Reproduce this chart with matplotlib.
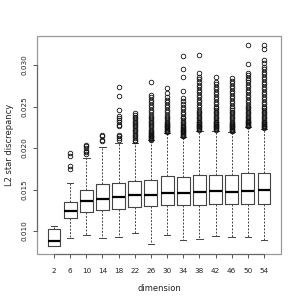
import matplotlib
matplotlib.use('Agg')
import matplotlib.pyplot as plt
from matplotlib.patches import Rectangle

# L2 star discrepancy by dimension (box stats)
dims = [2, 6, 10, 14, 18, 22, 26, 30, 34, 38, 42, 46, 50, 54]
q1 = [0.00823, 0.01153, 0.01225, 0.01253, 0.01261, 0.01286, 0.01301,
      0.01313, 0.01310, 0.01317, 0.01321, 0.01321, 0.01325, 0.01325]
med = [0.00883, 0.01245, 0.01361, 0.01386, 0.01413, 0.01434, 0.01434,
       0.01461, 0.01454, 0.01466, 0.01486, 0.01474, 0.01486, 0.01490]
q3 = [0.01028, 0.01346, 0.01494, 0.01566, 0.01582, 0.01602, 0.01614,
      0.01663, 0.01647, 0.01671, 0.01675, 0.01675, 0.01695, 0.01695]
whislo = [0.00823, 0.00916, 0.00948, 0.00916, 0.00924, 0.00972, 0.00843,
          0.00948, 0.00888, 0.00900, 0.00944, 0.00932, 0.00924, 0.00888]
whishi = [0.01064, 0.01582, 0.01883, 0.02008, 0.02064, 0.02064, 0.02096,
          0.02177, 0.02129, 0.02205, 0.02205, 0.02190, 0.02250, 0.02230]

# outliers per dimension
f2 = []
f6 = [0.0194, 0.0191, 0.0178, 0.0175]
f10 = [0.0204, 0.0202, 0.0200, 0.0197, 0.0195, 0.0193]
f14 = [0.0216, 0.0214, 0.0210, 0.0208]
f18 = [0.0274, 0.0263, 0.0246, 0.0239, 0.0236, 0.0234, 0.0231, 0.0228, 0.0226,
       0.0216, 0.0214, 0.0212, 0.0210]
f22 = [0.0242, 0.0240, 0.0238, 0.0236, 0.0234, 0.0232, 0.0230, 0.0228, 0.0226,
       0.0224, 0.0222, 0.0220, 0.0218, 0.0216, 0.0214, 0.0212, 0.0210, 0.0208]
f26 = [0.0280, 0.0264, 0.0261, 0.0258, 0.0255, 0.0252, 0.0249, 0.0246, 0.0243,
       0.0240, 0.0238, 0.0236, 0.0234, 0.0232, 0.0230, 0.0228, 0.0226, 0.0224,
       0.0222, 0.0220, 0.0219, 0.0218, 0.0217, 0.0216, 0.0215, 0.0214, 0.0213,
       0.0212, 0.0211, 0.0210]
f30 = [0.0272, 0.0266, 0.0262, 0.0258, 0.0255, 0.0252, 0.0249, 0.0246, 0.0243,
       0.0240, 0.0238, 0.0236, 0.0234, 0.0232, 0.0230, 0.0229, 0.0228, 0.0227,
       0.0226, 0.0225, 0.0224, 0.0223, 0.0222, 0.0221, 0.0220, 0.0219]
f34 = [0.0311, 0.0295, 0.0286, 0.0269, 0.0260, 0.0257, 0.0253, 0.0250, 0.0247,
       0.0244, 0.0241, 0.0238, 0.0236, 0.0234, 0.0232, 0.0230, 0.0228, 0.0226,
       0.0225, 0.0224, 0.0223, 0.0222, 0.0221, 0.0220, 0.0219, 0.0218, 0.0217,
       0.0216, 0.0215, 0.0214]
f38 = [0.0312, 0.0291, 0.0286, 0.0283, 0.0279, 0.0276, 0.0273, 0.0270, 0.0267,
       0.0264, 0.0261, 0.0258, 0.0255, 0.0252, 0.0249, 0.0246, 0.0244, 0.0242,
       0.0240, 0.0238, 0.0236, 0.0234, 0.0232, 0.0231, 0.0230, 0.0229, 0.0228,
       0.0227, 0.0226, 0.0225, 0.0224, 0.0223, 0.0222]
f42 = [0.0286, 0.0280, 0.0277, 0.0274, 0.0271, 0.0268, 0.0265, 0.0262, 0.0259,
       0.0256, 0.0253, 0.0250, 0.0248, 0.0246, 0.0244, 0.0242, 0.0240, 0.0238,
       0.0236, 0.0234, 0.0232, 0.0231, 0.0230, 0.0229, 0.0228, 0.0227, 0.0226,
       0.0225, 0.0224, 0.0223, 0.0222]
f46 = [0.0284, 0.0281, 0.0278, 0.0275, 0.0272, 0.0269, 0.0266, 0.0263, 0.0260,
       0.0257, 0.0254, 0.0251, 0.0248, 0.0246, 0.0244, 0.0242, 0.0240, 0.0238,
       0.0236, 0.0234, 0.0232, 0.0230, 0.0229, 0.0228, 0.0227, 0.0226, 0.0225,
       0.0224, 0.0223, 0.0222, 0.0221, 0.0220]
f50 = [0.0324, 0.0301, 0.0291, 0.0288, 0.0285, 0.0282, 0.0279, 0.0276, 0.0273,
       0.0270, 0.0267, 0.0264, 0.0261, 0.0258, 0.0255, 0.0252, 0.0250, 0.0248,
       0.0246, 0.0244, 0.0242, 0.0240, 0.0238, 0.0236, 0.0234, 0.0233, 0.0232,
       0.0231, 0.0230, 0.0229, 0.0228, 0.0227, 0.0226]
f54 = [0.0324, 0.0319, 0.0306, 0.0302, 0.0298, 0.0295, 0.0292, 0.0289, 0.0286,
       0.0283, 0.0280, 0.0277, 0.0274, 0.0271, 0.0268, 0.0265, 0.0262, 0.0259,
       0.0256, 0.0253, 0.0250, 0.0248, 0.0246, 0.0244, 0.0242, 0.0240, 0.0238,
       0.0236, 0.0234, 0.0232, 0.0231, 0.0230, 0.0229, 0.0228, 0.0227, 0.0226,
       0.0225, 0.0224]
fliers = [f2, f6, f10, f14, f18, f22, f26, f30, f34, f38, f42, f46, f50, f54]

yticks = [0.010, 0.015, 0.020, 0.025, 0.030]

stats = []
for i in range(len(dims)):
    stats.append({'med': med[i], 'q1': q1[i], 'q3': q3[i],
                  'whislo': whislo[i], 'whishi': whishi[i],
                  'fliers': fliers[i], 'label': str(dims[i])})

fig = plt.figure(figsize=(3, 3), dpi=100)
ax = fig.add_axes([0.123, 0.153, 0.814, 0.727])

ax.bxp(stats, positions=range(1, len(dims) + 1), widths=0.8,
       boxprops=dict(color='#444444', linewidth=0.8),
       whiskerprops=dict(color='#444444', linewidth=0.7, linestyle=(0, (2, 1.5))),
       capprops=dict(color='#444444', linewidth=0.7),
       capwidths=0.4,
       medianprops=dict(color='black', linewidth=1.6),
       flierprops=dict(marker='o', markersize=3.3, markerfacecolor='none',
                       markeredgecolor='#111111', markeredgewidth=0.6))

ax.set_xlim(-0.06, 15.06)
ax.set_ylim(0.00723, 0.0335)

# R style frame: light box, darker axis lines between first and last ticks
for s in ax.spines.values():
    s.set_visible(False)
ax.add_patch(Rectangle((0, 0), 1, 1, transform=ax.transAxes, fill=False,
                       edgecolor='#9a9a9a', linewidth=0.9, clip_on=False))
ax.spines['left'].set_visible(True)
ax.spines['bottom'].set_visible(True)
ax.spines['left'].set_bounds(yticks[0], yticks[-1])
ax.spines['bottom'].set_bounds(1, len(dims))
ax.spines['left'].set_color('#666666')
ax.spines['bottom'].set_color('#666666')

ax.set_yticks(yticks)
ax.set_yticklabels(['%.3f' % v for v in yticks], rotation=90, va='center')
ax.set_xticks(range(1, len(dims) + 1))
ax.set_xticklabels([str(d) for d in dims])
ax.tick_params(axis='both', labelsize=5.2, length=3, width=0.7,
               color='#555555', labelcolor='#222222')
ax.tick_params(axis='y', pad=4)
ax.tick_params(axis='x', pad=7)

ax.set_xlabel('dimension', fontsize=6, color='#222222', labelpad=7)
ax.set_ylabel('L2 star discrepancy', fontsize=6, color='#222222', labelpad=5.5)

fig.savefig('out.png', dpi=100)
